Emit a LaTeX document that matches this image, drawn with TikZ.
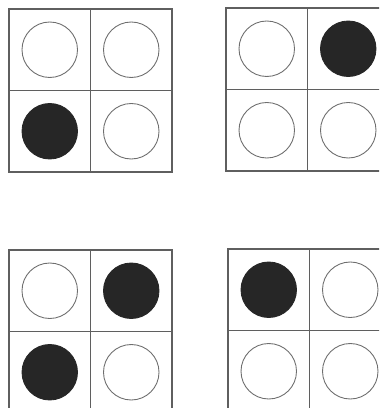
\documentclass[tikz,border=0pt]{standalone}
\usepackage{tikz}
\usepackage{xcolor}
\definecolor{gridline}{RGB}{95,95,95}
\definecolor{ringline}{RGB}{110,110,110}
\definecolor{stone}{RGB}{38,38,38}

\begin{document}
\begin{tikzpicture}[
    x=0.02cm, y=-0.02cm,
    frame/.style={draw=gridline, line width=0.6pt},
    spot/.style={circle, minimum size=1.11cm, inner sep=0pt, outer sep=0pt},
    empty/.style={spot, draw=ringline, line width=0.5pt, fill=white},
    full/.style={spot, draw=stone, line width=0.5pt, fill=stone}
]
\clip (0,0) rectangle (379,408);
\fill[white] (0,0) rectangle (379,408);

% upper left
\draw[frame] (9,9) rectangle (172,172);
\draw[frame] (90.5,9) -- (90.5,172);
\draw[frame] (9,90.5) -- (172,90.5);
\node[empty] (a11) at (49.75,49.75) {};
\node[empty] (a12) at (131.25,49.75) {};
\node[full]  (a21) at (49.75,131.25) {};
\node[empty] (a22) at (131.25,131.25) {};

% upper right
\draw[frame] (226,8) rectangle (389,171);
\draw[frame] (307.5,8) -- (307.5,171);
\draw[frame] (226,89.5) -- (389,89.5);
\node[empty] (b11) at (266.75,48.75) {};
\node[full]  (b12) at (348.25,48.75) {};
\node[empty] (b21) at (266.75,130.25) {};
\node[empty] (b22) at (348.25,130.25) {};

% lower left
\draw[frame] (9,250) rectangle (172,413);
\draw[frame] (90.5,250) -- (90.5,413);
\draw[frame] (9,331.5) -- (172,331.5);
\node[empty] (c11) at (49.75,290.75) {};
\node[full]  (c12) at (131.25,290.75) {};
\node[full]  (c21) at (49.75,372.25) {};
\node[empty] (c22) at (131.25,372.25) {};

% lower right
\draw[frame] (228,249) rectangle (391,412);
\draw[frame] (309.5,249) -- (309.5,412);
\draw[frame] (228,330.5) -- (391,330.5);
\node[full]  (d11) at (268.75,289.75) {};
\node[empty] (d12) at (350.25,289.75) {};
\node[empty] (d21) at (268.75,371.25) {};
\node[empty] (d22) at (350.25,371.25) {};
\end{tikzpicture}
\end{document}
